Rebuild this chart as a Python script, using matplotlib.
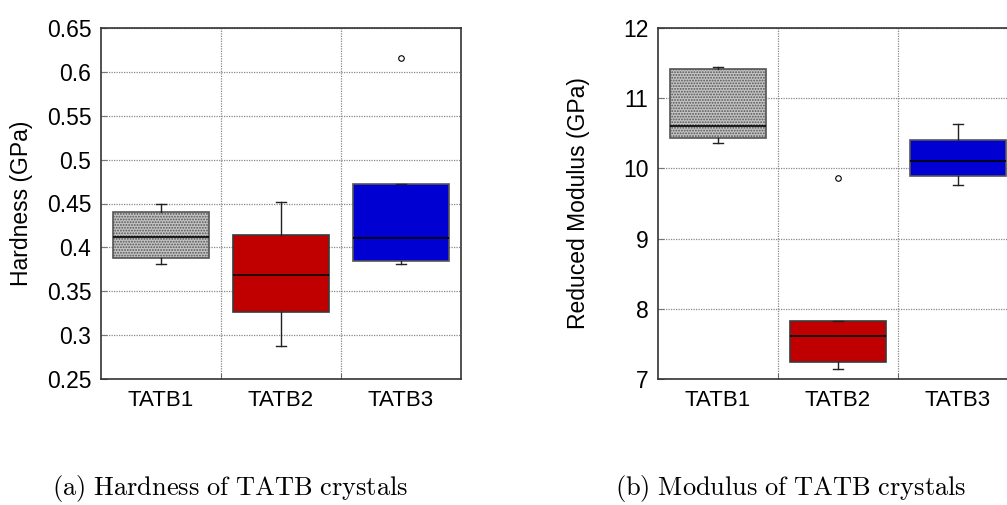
import matplotlib
matplotlib.use("Agg")
import matplotlib.pyplot as plt

plt.rcParams['font.family'] = ['Liberation Sans', 'DejaVu Sans']
plt.rcParams['mathtext.fontset'] = 'cm'
plt.rcParams['hatch.linewidth'] = 0.9

categories = ["TATB1", "TATB2", "TATB3"]

# Hardness (GPa)
hard_whislo = [0.381, 0.288, 0.381]
hard_q1 = [0.388, 0.326, 0.384]
hard_med = [0.412, 0.369, 0.411]
hard_q3 = [0.440, 0.414, 0.472]
hard_whishi = [0.450, 0.452, 0.472]
hard_fliers = [[], [], [0.616]]

# Reduced modulus (GPa)
mod_whislo = [10.36, 7.14, 9.76]
mod_q1 = [10.44, 7.24, 9.89]
mod_med = [10.61, 7.61, 10.105]
mod_q3 = [11.41, 7.82, 10.41]
mod_whishi = [11.45, 7.82, 10.63]
mod_fliers = [[], [9.87], []]

hard_ticks = [0.25, 0.3, 0.35, 0.4, 0.45, 0.5, 0.55, 0.6, 0.65]
hard_ticklabels = ["0.25", "0.3", "0.35", "0.4", "0.45", "0.5", "0.55", "0.6", "0.65"]
mod_ticks = [7, 8, 9, 10, 11, 12]
mod_ticklabels = ["7", "8", "9", "10", "11", "12"]

face_colors = ["#c4c4c4", "#c00000", "#0000d2"]
edge_colors = ["#555555", "#3a3a3a", "#555555"]
hatches = ["......", None, None]

fig = plt.figure(figsize=(10.07, 5.05), dpi=100)
W, H = 1007.0, 505.0


def make_panel(rect, whislo, q1, med, q3, whishi, fliers, ylim, ticks, ticklabels, ylabel):
    ax = fig.add_axes(rect)
    stats = []
    for i, c in enumerate(categories):
        stats.append(dict(label=c, whislo=whislo[i], q1=q1[i], med=med[i],
                          q3=q3[i], whishi=whishi[i], fliers=fliers[i]))
    res = ax.bxp(stats, positions=[1, 2, 3], widths=0.8, capwidths=0.09,
                 patch_artist=True, showfliers=True,
                 medianprops=dict(color="black", linewidth=1.2),
                 whiskerprops=dict(color="#222222", linewidth=1.0),
                 capprops=dict(color="#222222", linewidth=1.0),
                 flierprops=dict(marker="o", markersize=4, markerfacecolor="white",
                                 markeredgecolor="black", markeredgewidth=0.8,
                                 linestyle="none"))
    for i, b in enumerate(res["boxes"]):
        b.set_facecolor(face_colors[i])
        b.set_edgecolor(edge_colors[i])
        b.set_linewidth(1.2)
        if hatches[i]:
            b.set_hatch(hatches[i])
        b.set_zorder(2)
    for m in res["medians"]:
        m.set_zorder(3)
    ax.set_xlim(0.5, 3.5)
    ax.set_ylim(*ylim)
    ax.set_yticks(ticks)
    ax.set_yticklabels(ticklabels, fontsize=16.5)
    ax.set_xticks([1, 2, 3])
    ax.set_xticklabels(categories, fontsize=16)
    ax.set_xticks([1.5, 2.5], minor=True)
    ax.tick_params(axis="x", which="major", length=0, pad=8)
    ax.tick_params(axis="x", which="minor", direction="in", length=4, color="#555555")
    ax.tick_params(axis="y", direction="in", length=4, color="#777777", pad=7)
    ax.grid(True, axis="y", which="major", linestyle=(0, (1, 1)), color="#888888", linewidth=0.9)
    ax.grid(True, axis="x", which="minor", linestyle=(0, (1, 1)), color="#888888", linewidth=0.9)
    ax.set_axisbelow(True)
    for s in ax.spines.values():
        s.set_color("#333333")
        s.set_linewidth(1.2)
    ax.set_ylabel(ylabel, fontsize=16.5)
    ax.yaxis.set_label_coords(-68 / 360, 0.5)
    return ax


ax1 = make_panel([101 / W, 1 - 379 / H, 360 / W, 351 / H],
                 hard_whislo, hard_q1, hard_med, hard_q3, hard_whishi, hard_fliers,
                 (0.25, 0.65), hard_ticks, hard_ticklabels, "Hardness (GPa)")
ax2 = make_panel([658 / W, 1 - 379 / H, 360 / W, 351 / H],
                 mod_whislo, mod_q1, mod_med, mod_q3, mod_whishi, mod_fliers,
                 (7, 12), mod_ticks, mod_ticklabels, "Reduced Modulus (GPa)")

fig.text(230 / W, 1 - 489 / H, r"$\mathrm{(a)\ Hardness\ of\ TATB\ crystals}$",
         ha="center", va="center", fontsize=19)
fig.text(791 / W, 1 - 489 / H, r"$\mathrm{(b)\ Modulus\ of\ TATB\ crystals}$",
         ha="center", va="center", fontsize=19)

fig.savefig("out.png", dpi=100)
